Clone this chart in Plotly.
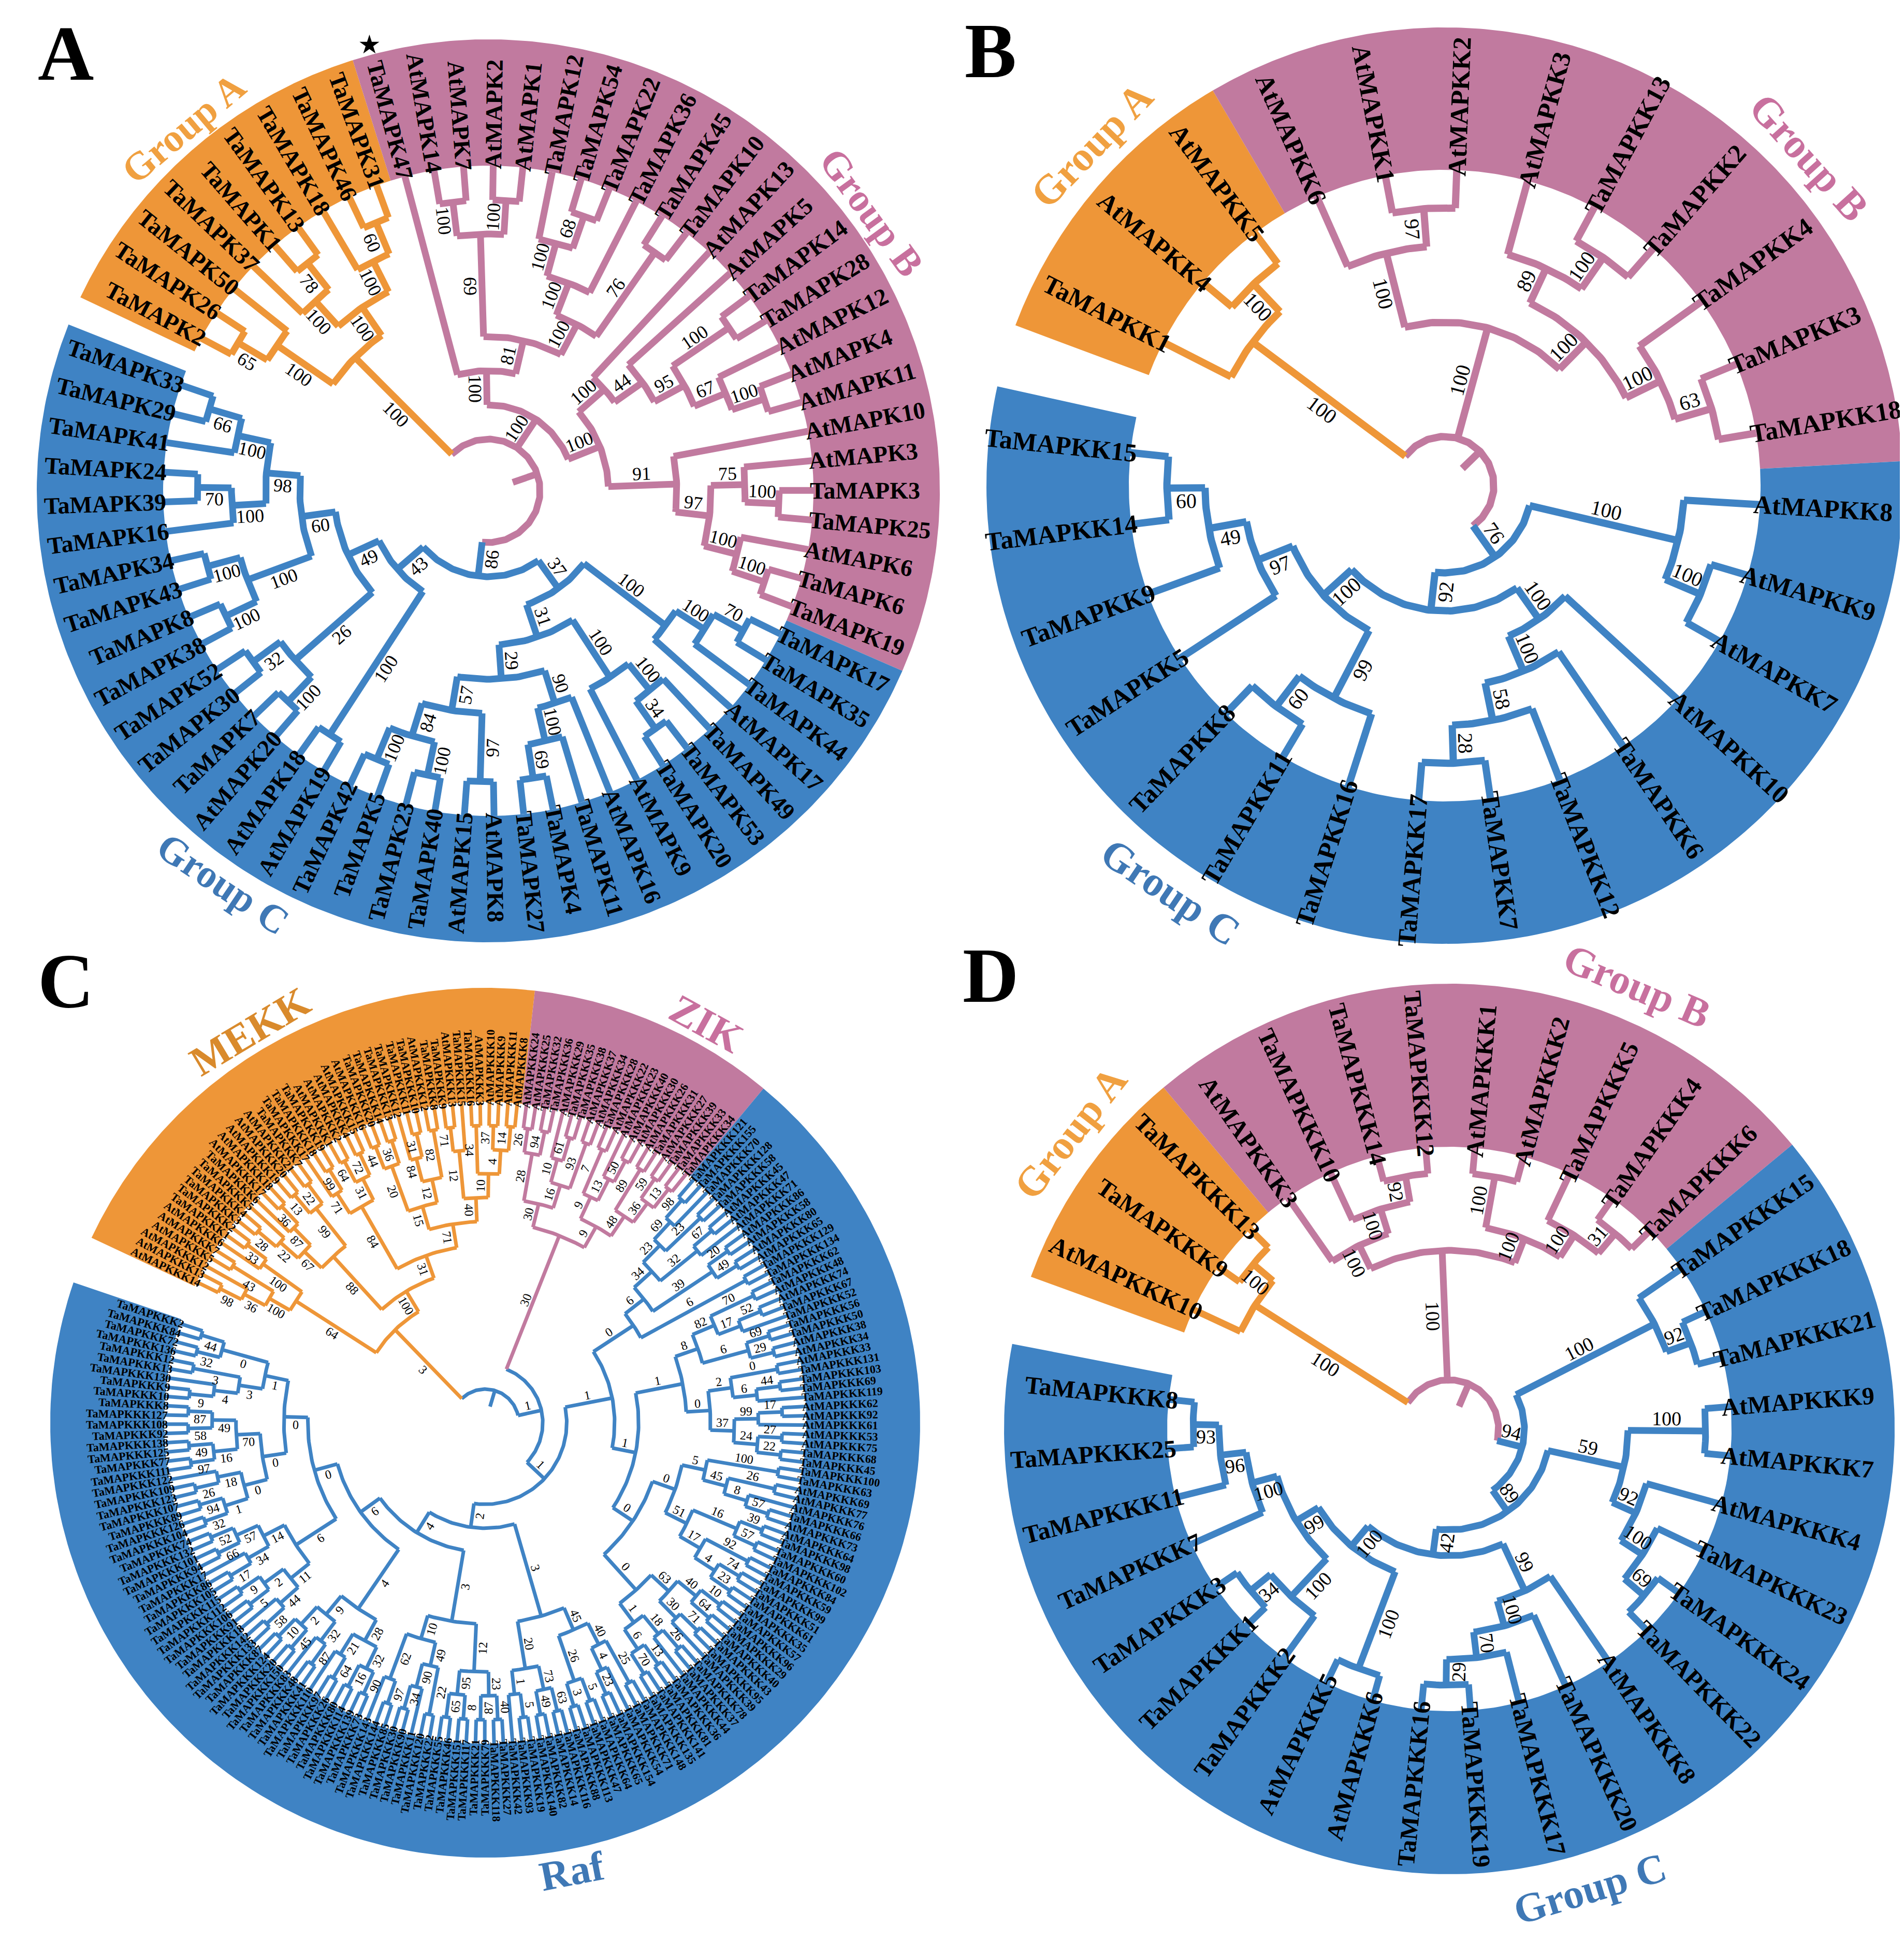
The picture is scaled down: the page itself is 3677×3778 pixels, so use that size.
import numpy as np
import plotly.graph_objects as go

# colours ###########################################################################
ORANGE = '#EE9638'
PINK = '#C17A9F'
BLUE = '#3F83C4'
TXT_ORANGE = '#F0A040'
TXT_PINK = '#C8709E'
TXT_BLUE = '#3F78B5'

# tree topology helpers: '*' is a leaf, the number after ')' is the bootstrap
L = '*'
def j(*kids, b=''):
    return '(' + ','.join(kids) + ')' + str(b)
def pr(b):
    return j(L, L, b=b)

# ---------------- Panel A (MAPK) ---------------------------------------------------
A_names = ['TaMAPK2', 'TaMAPK26', 'TaMAPK50', 'TaMAPK37', 'TaMAPK1', 'TaMAPK13', 'TaMAPK18', 'TaMAPK46', 'TaMAPK31',
           'TaMAPK47', 'AtMAPK14', 'AtMAPK7', 'AtMAPK2', 'AtMAPK1', 'TaMAPK12', 'TaMAPK54', 'TaMAPK22', 'TaMAPK36',
           'TaMAPK45', 'TaMAPK10', 'AtMAPK13', 'AtMAPK5', 'TaMAPK14', 'TaMAPK28', 'AtMAPK12', 'AtMAPK4', 'AtMAPK11',
           'AtMAPK10', 'AtMAPK3', 'TaMAPK3', 'TaMAPK25', 'AtMAPK6', 'TaMAPK6', 'TaMAPK19',
           'TaMAPK17', 'TaMAPK35', 'TaMAPK44', 'AtMAPK17', 'TaMAPK49', 'TaMAPK53', 'TaMAPK20', 'AtMAPK9', 'AtMAPK16',
           'TaMAPK11', 'TaMAPK4', 'TaMAPK27', 'AtMAPK8', 'AtMAPK15', 'TaMAPK40', 'TaMAPK23', 'TaMAPK5', 'TaMAPK42',
           'AtMAPK19', 'AtMAPK18', 'AtMAPK20', 'TaMAPK7', 'TaMAPK30', 'TaMAPK52', 'TaMAPK38', 'TaMAPK8', 'TaMAPK43',
           'TaMAPK34', 'TaMAPK16', 'TaMAPK39', 'TaMAPK24', 'TaMAPK41', 'TaMAPK29', 'TaMAPK33']
A_sizes = [9, 25, 34]
A_grpA = j(j(pr(65), L, b=100), j(j(L, pr(78), b=100), j(L, pr(60), b=100), b=100), b=100)
A_b1 = j(L, j(j(pr(100), pr(100), b=69), j(j(j(L, pr(68), b=100), L, b=100), pr(76), b=100), b=81), b=100)
A_b2 = j(L, j(L, j(pr(100), j(L, pr(100), b=67), b=95), b=44), b=100)
A_b3 = j(L, j(j(L, pr(100), b=75), j(L, pr(100), b=100), b=97), b=91)
A_grpB = j(A_b1, j(A_b2, A_b3, b=100), b=100)
A_c1 = j(j(pr(70), L, b=100), L, b=100)
A_c2 = j(j(L, pr(34), b=100), L, b=100)
A_c3 = j(L, j(L, pr(69), b=100), b=90)
A_c4 = j(pr(97), j(pr(100), pr(100), b=84), b=57)
A_cr = j(A_c1, j(A_c2, j(A_c3, A_c4, b=29), b=31), b=37)
A_cl = j(pr(100), j(j(pr(100), pr(32), b=26), j(j(pr(100), pr(100), b=100),
         j(j(L, pr(70), b=100), j(L, pr(66), b=100), b=98), b=60), b=49), b=43)
A_grpC = j(A_cr, A_cl, b=86)
A_tree = j(A_grpA, A_grpB, A_grpC)

# ---------------- Panel B (MAPKK) --------------------------------------------------
B_names = ['TaMAPKK1', 'AtMAPKK4', 'AtMAPKK5',
           'AtMAPKK6', 'AtMAPKK1', 'AtMAPKK2', 'AtMAPKK3', 'TaMAPKK13', 'TaMAPKK2', 'TaMAPKK4', 'TaMAPKK3', 'TaMAPKK18',
           'AtMAPKK8', 'AtMAPKK9', 'AtMAPKK7', 'AtMAPKK10', 'TaMAPKK6', 'TaMAPKK12', 'TaMAPKK7', 'TaMAPKK17',
           'TaMAPKK16', 'TaMAPKK11', 'TaMAPKK8', 'TaMAPKK5', 'TaMAPKK9', 'TaMAPKK14', 'TaMAPKK15']
B_sizes = [3, 9, 15]
B_grpA = j(L, pr(100), b=100)
B_grpB = j(j(L, pr(97), b=100), j(j(L, pr(100), b=89), j(L, pr(63), b=100), b=100), b=100)
B_c1 = j(L, pr(100), b=100)
B_c2 = j(L, j(L, j(L, pr(28), b=58), b=100), b=100)
B_c3 = j(j(L, pr(60), b=99), j(L, j(L, pr(60), b=49), b=97), b=100)
B_grpC = j(B_c1, j(B_c2, B_c3, b=92), b=76)
B_tree = j(B_grpA, B_grpB, B_grpC)

# ---------------- Panel D (MAPKKK, small) ------------------------------------------
D_names = ['AtMAPKKK10', 'TaMAPKKK9', 'TaMAPKKK13',
           'AtMAPKKK3', 'TaMAPKKK10', 'TaMAPKKK14', 'TaMAPKKK12', 'AtMAPKKK1', 'AtMAPKKK2', 'TaMAPKKK5',
           'TaMAPKKK4', 'TaMAPKKK6',
           'TaMAPKKK15', 'TaMAPKKK18', 'TaMAPKKK21', 'AtMAPKKK9', 'AtMAPKKK7', 'AtMAPKKK4', 'TaMAPKKK23',
           'TaMAPKKK24', 'TaMAPKKK22', 'AtMAPKKK8', 'TaMAPKKK20', 'TaMAPKKK17', 'TaMAPKKK19', 'TaMAPKKK16',
           'AtMAPKKK6', 'AtMAPKKK5', 'TaMAPKKK2', 'TaMAPKKK1', 'TaMAPKKK3', 'TaMAPKKK7', 'TaMAPKKK11',
           'TaMAPKKK25', 'TaMAPKKK8']
D_sizes = [3, 9, 23]
D_grpA = j(L, pr(100), b=100)
D_grpB = j(j(L, j(L, pr(92), b=100), b=100), j(pr(100), j(L, pr(31), b=100), b=100), b=100)
D_c1 = j(L, pr(92), b=100)
D_c2 = j(pr(100), j(L, j(L, pr(69), b=100), b=92), b=59)
D_c3 = j(L, j(L, j(L, pr(29), b=70), b=100), b=99)
D_c5 = j(j(L, pr(34), b=100), j(L, j(L, pr(93), b=96), b=100), b=99)
D_grpC = j(D_c1, j(D_c2, j(D_c3, j(pr(100), D_c5, b=100), b=42), b=89), b=94)
D_tree = j(D_grpA, D_grpB, D_grpC)

# ---------------- Panel C (MAPKKK, all) --------------------------------------------
C_mekk = ('A14 A13 A12 A5 A7 A6 T1 T2 T3 T4 T5 T6 A17 A18 A19 '
          'A20 A21 T7 T17 T18 T19 A1 A2 A4 A15 A16 T20 T14 T13 T12 '
          'T11 T10 A12 T8 T9 A13 T15 T16 A3 A10 A9 A11 A8').split()
C_zik = 'A24 A25 T32 T36 A29 T35 T38 A37 A34 T28 A22 A23 A40 A30 A26 T31 A27 T39 T33 T34'.split()
C_raf = ('T121 T155 T70 T128 T58 A45 A47 A71 A86 A58 A80 A65 T129 T134 T62 '
         'A48 A74 T67 T52 T56 T50 A38 A34 A33 T131 T103 T69 T119 A62 A92 '
         'A61 A53 A75 T68 T45 T100 T63 A69 A77 A76 T66 A73 A64 T98 T60 '
         'T102 T84 T59 T99 T51 T61 T35 T57 T96 T29 T40 T43 T95 T39 T78 '
         'T37 T44 T36 T81 T141 T135 T148 T71 T54 T154 T65 T64 T47 T113 T88 '
         'T116 T14 T82 T140 T19 T93 T42 T27 T118 T79 T21 T117 T151 T46 T55 '
         'T22 T120 T11 T90 T30 T85 T144 T143 T73 T139 T114 T80 T26 T97 T110 '
         'T41 T48 T83 T150 T20 T124 T87 T133 T142 T18 T91 T106 T112 T115 T105 '
         'T86 T17 T94 T101 T132 T74 T104 T126 T89 T107 T123 T109 T122 T111 T77 '
         'T125 T138 T92 T108 T127 T8 T10 T9 T130 T13 T12 T136 T72 T84 T2').split()
C_names = [('AtMAPKKK' if s[0] == 'A' else 'TaMAPKKK') + s[1:] for s in C_mekk + C_zik + C_raf]
C_sizes = [len(C_mekk), len(C_zik), len(C_raf)]

M1 = j(j(j(pr(98), L, b=36), pr(43), b=100), j(L, pr(33), b=100), b=64)
M2 = j(j(j(pr(28), L, b=22), j(L, pr(36), b=87), b=67), j(pr(13), pr(22), b=99), b=88)
M3 = j(j(L, pr(99), b=71), j(pr(64), pr(72), b=31), b=84)
M4 = j(j(pr(44), pr(36), b=20), j(j(L, pr(31), b=84), pr(82), b=12), b=15)
M5 = j(j(pr(71), L, b=12), j(pr(34), j(pr(37), pr(14), b=4), b=10), b=40)
C_MEKK = j(M1, j(M2, j(M3, j(M4, M5, b=71), b=31), b=100), b=3)
Z1 = j(j(pr(26), pr(94), b=28), j(j(L, pr(61), b=10), pr(93), b=16), b=30)
Z2 = j(j(pr(7), j(L, pr(50), b=13), b=9), j(pr(89), j(pr(59), pr(13), b=36), b=48), b=9)
C_ZIK = j(Z1, Z2, b=30)
R1 = j(j(j(j(j(pr(98), L, b=69), pr(23), b=23), j(pr(67), L, b=32), b=34), j(pr(20), pr(49), b=39), b=6), pr(6), b=0)
R2 = j(j(j(pr(70), j(pr(52), L, b=17), b=82), j(pr(69), pr(29), b=6), b=8),
       j(j(pr(0), j(pr(44), L, b=6), b=2), j(j(pr(17), L, b=99), j(pr(27), pr(22), b=24), b=37), b=0), b=1)
R3 = j(j(pr(100), j(pr(26), j(L, pr(57), b=8), b=45), b=5),
       j(j(pr(39), pr(57), b=16), j(pr(92), j(pr(74), pr(23), b=4), b=17), b=51), b=0)
R4 = j(j(j(pr(10), pr(64), b=40), j(pr(71), L, b=30), b=63), j(j(pr(26), L, b=18), j(pr(13), pr(70), b=6), b=1), b=0)
R5 = j(j(j(pr(25), j(L, pr(23), b=4), b=40), j(pr(5), pr(3), b=26), b=45), j(j(pr(63), pr(49), b=73), j(pr(5), L, b=1), b=20), b=3)
R6 = j(j(j(pr(40), pr(87), b=23), j(pr(8), pr(65), b=95), b=12), j(j(pr(22), j(L, pr(34), b=90), b=49), j(pr(97), L, b=62), b=10), b=3)
R7 = j(j(j(pr(90), pr(16), b=32), j(pr(64), L, b=21), b=28), j(j(pr(87), L, b=32), j(pr(45), pr(10), b=2), b=9), b=4)
R8 = j(j(j(pr(58), L, b=44), j(pr(5), pr(9), b=2), b=11), j(j(pr(17), L, b=34), j(pr(66), pr(52), b=57), b=14), b=6)
R9 = j(j(j(pr(32), pr(94), b=1), j(pr(26), L, b=18), b=0), j(j(pr(97), pr(49), b=16), j(pr(58), pr(87), b=49), b=70), b=0)
R10 = j(j(j(pr(9), L, b=4), pr(3), b=3), j(pr(32), pr(44), b=0), b=1)
C_RAF = j(j(R1, j(R2, j(R3, R4, b=0), b=1), b=1),
          j(R5, j(R6, j(R7, j(R8, j(R9, R10, b=0), b=0), b=6), b=4), b=2), b=1)
C_tree = j(C_MEKK, j(C_ZIK, C_RAF, b=1))

# group labels: text, angle, colour
A_glab = [('Group A', 130, TXT_ORANGE), ('Group B', 36, TXT_PINK), ('Group C', 236, TXT_BLUE)]
B_glab = [('Group A', 136, TXT_ORANGE), ('Group B', 42, TXT_PINK), ('Group C', 236, TXT_BLUE)]
C_glab = [('MEKK', 121, '#D98A2C'), ('ZIK', 61, TXT_PINK), ('Raf', 281, TXT_BLUE)]
D_glab = [('Group A', 142, TXT_ORANGE), ('Group B', 67, TXT_PINK), ('Group C', 287, TXT_BLUE)]


def parse(s):
    pos = [0]
    cnt = [0]
    def node():
        if s[pos[0]] == '(':
            pos[0] += 1
            kids = [node()]
            while s[pos[0]] == ',':
                pos[0] += 1
                kids.append(node())
            pos[0] += 1
            lab = ''
            while pos[0] < len(s) and s[pos[0]].isdigit():
                lab += s[pos[0]]
                pos[0] += 1
            return {'kids': kids, 'label': lab}
        pos[0] += 1
        cnt[0] += 1
        return {'kids': [], 'leaf': cnt[0] - 1, 'label': ''}
    return node(), cnt[0]


def radial_angle(t):
    t = (t + 180) % 360 - 180
    if -90 < t <= 90:
        return -t
    a = 180 - t
    return a - 360 if a > 180 else a


def tangent_angle(t):
    t = (t + 180) % 360 - 180
    d = t - 90 if t >= 0 else t + 90
    return -d


SERIF = 'Liberation Serif, Times New Roman, Times, serif'
fig = go.Figure()
annots = []


def draw(tree, names, sizes, glabs, root_col, g):
    cx, cy, Rout, Rtip, r0 = g['cx'], g['cy'], g['Rout'], g['Rtip'], g['r0']
    cols = [ORANGE, PINK, BLUE]
    root, n = parse(tree)
    assert n == len(names), (n, len(names))
    grp = np.repeat(np.arange(3), sizes)
    ang = np.linspace(g['a0'], g['a1'], n)
    half = (ang[0] - ang[1]) / 2

    def P(r, a):
        return cx + r * np.cos(np.radians(a)), cy - r * np.sin(np.radians(a))

    # coloured bands
    start = 0
    for k, sz in enumerate(sizes):
        a1, a2 = ang[start] + half, ang[start + sz - 1] - half
        aa = np.linspace(a1, a2, 200)
        xo, yo = P(Rout, aa)
        xi, yi = P(Rtip, aa[::-1])
        fig.add_trace(go.Scatter(x=np.r_[xo, xi, xo[:1]], y=np.r_[yo, yi, yo[:1]], fill='toself',
                                 fillcolor=cols[k], line=dict(width=0), mode='lines', hoverinfo='skip'))
        start += sz

    def setup(nd):
        if not nd['kids']:
            nd['a'], nd['h'], nd['g'] = ang[nd['leaf']], 0, grp[nd['leaf']]
            return
        for c in nd['kids']:
            setup(c)
        nd['a'] = (nd['kids'][0]['a'] + nd['kids'][-1]['a']) / 2
        nd['h'] = 1 + max(c['h'] for c in nd['kids'])
        gs = set(c['g'] for c in nd['kids'])
        nd['g'] = gs.pop() if len(gs) == 1 and None not in gs else None
    setup(root)
    step = (Rtip - r0) / root['h']
    segs = {}

    def col(nd):
        return cols[nd['g']] if nd['g'] is not None else root_col

    def add(c, xs, ys):
        s = segs.setdefault(c, ([], []))
        s[0].extend(list(xs) + [None])
        s[1].extend(list(ys) + [None])

    def rad(nd):
        return Rtip - nd['h'] * step

    def walk(nd):
        r = rad(nd)
        a1, a2 = nd['kids'][0]['a'], nd['kids'][-1]['a']
        aa = np.linspace(a1, a2, max(2, int(abs(a1 - a2)) + 2))
        add(col(nd), *P(r, aa))
        for c in nd['kids']:
            rc = rad(c)
            add(col(c), *P(np.array([r, rc]), np.array([c['a'], c['a']])))
            if c['kids']:
                walk(c)
                if c['label'] != '':
                    rm = (r + rc) / 2
                    off = np.degrees(g['bfs'] * 0.62 / rm)
                    x, y = P(rm, c['a'] + off)
                    annots.append(dict(x=x, y=y, text=c['label'], showarrow=False,
                                       textangle=radial_angle(c['a']),
                                       font=dict(family=SERIF, size=g['bfs'], color='black')))
    walk(root)
    # root stub
    add(root_col, *P(np.array([r0 * 0.5, r0]), np.array([root['a'], root['a']])))
    for c, (xs, ys) in segs.items():
        fig.add_trace(go.Scatter(x=xs, y=ys, mode='lines', line=dict(color=c, width=g['lw']),
                                 hoverinfo='skip'))
    # leaf labels
    fs = g['lfs']
    for i, nm in enumerate(names):
        w = len(nm) * fs * 0.56
        x, y = P(Rtip + fs * 0.2 + w / 2, ang[i])
        annots.append(dict(x=x, y=y, text=nm, showarrow=False, textangle=radial_angle(ang[i]),
                           font=dict(family=SERIF, size=fs, color='black', weight='bold')))
    for t, a, c in glabs:
        x, y = P(Rout * g['gr'], a)
        annots.append(dict(x=x, y=y, text=t, showarrow=False, textangle=tangent_angle(a),
                           font=dict(family=SERIF, size=g['gfs'], color=c, weight='bold')))
    return ang, P


geoA = dict(cx=935, cy=940, Rout=872, Rtip=628, r0=100, a0=152, a1=-199, lw=13, bfs=36, lfs=46, gfs=76, gr=1.05)
geoB = dict(cx=2782, cy=930, Rout=885, Rtip=610, r0=95, a0=153, a1=-186, lw=14, bfs=40, lfs=50, gfs=80, gr=1.07)
geoC = dict(cx=929, cy=2740, Rout=840, Rtip=620, r0=65, a0=154, a1=-198, lw=7, bfs=24, lfs=22, gfs=80, gr=1.05)
geoD = dict(cx=2791, cy=2752, Rout=860, Rtip=545, r0=95, a0=155, a1=-186, lw=13, bfs=38, lfs=48, gfs=80, gr=1.08)

angA, PA = draw(A_tree, A_names, A_sizes, A_glab, PINK, geoA)
draw(B_tree, B_names, B_sizes, B_glab, PINK, geoB)
draw(C_tree, C_names, C_sizes, C_glab, BLUE, geoC)
draw(D_tree, D_names, D_sizes, D_glab, PINK, geoD)

# star marking TaMAPK47
sx, sy = PA(geoA['Rout'] + 22, angA[A_names.index('TaMAPK47')])
annots.append(dict(x=sx, y=sy, text='★', showarrow=False, font=dict(size=50, color='black')))

# panel letters
for t, x, y in [('A', 119, 95), ('B', 1905, 90), ('C', 119, 1887), ('D', 1905, 1876)]:
    annots.append(dict(x=x, y=y, text=t, showarrow=False,
                       font=dict(family=SERIF, size=150, color='black', weight='bold')))

fig.update_layout(width=3677, height=3778, margin=dict(l=0, r=0, t=0, b=0),
                  plot_bgcolor='white', paper_bgcolor='white', showlegend=False,
                  xaxis=dict(range=[0, 3677], visible=False),
                  yaxis=dict(range=[3778, 0], visible=False),
                  annotations=annots)
fig.write_html("out.html")
